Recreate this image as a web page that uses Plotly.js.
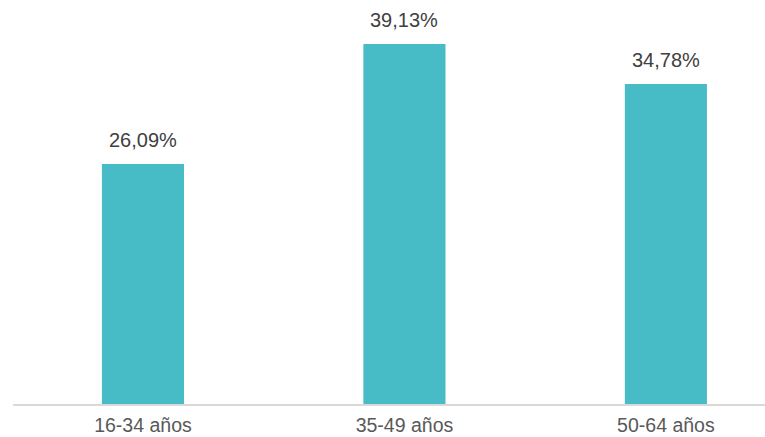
<!DOCTYPE html>
<html><head><meta charset="utf-8">
<script src="https://cdn.plot.ly/plotly-3.0.1.min.js"></script>
<style>html,body{margin:0;padding:0;background:#fff}#chart{width:765px;height:437px}</style>
</head><body><div id="chart"></div>
<script>
const categories = ["16-34 años", "35-49 años", "50-64 años"];
const values = [26.09, 39.13, 34.78];
const valueLabels = ["26,09%", "39,13%", "34,78%"];

const trace = {
  type: 'bar',
  x: [0, 1, 2],
  y: values,
  width: 0.314,
  marker: {color: '#48BCC6'},
  hoverinfo: 'skip'
};

const annotations = values.map((v, i) => ({
  x: i, y: v, xref: 'x', yref: 'y',
  text: valueLabels[i], showarrow: false,
  yanchor: 'bottom', yshift: 11,
  font: {family: 'Liberation Sans, Arial, sans-serif', size: 20, color: '#404040'}
}));

const layout = {
  width: 765, height: 437,
  margin: {l: 13, r: 0, t: 0, b: 33},
  paper_bgcolor: '#fff', plot_bgcolor: '#fff',
  showlegend: false,
  xaxis: {
    range: [-0.497, 2.379],
    tickvals: [0, 1, 2], ticktext: categories,
    showgrid: false, zeroline: false,
    showline: true, linecolor: '#d9d9d9', linewidth: 1.5,
    ticks: '', ticklabelstandoff: 3,
    tickfont: {family: 'Liberation Sans, Arial, sans-serif', size: 19.5, color: '#595959'},
    fixedrange: true
  },
  yaxis: {
    range: [0, 43.9], visible: false, showgrid: false, zeroline: false, fixedrange: true
  },
  annotations: annotations
};

Plotly.newPlot('chart', [trace], layout, {displayModeBar: false, staticPlot: true});
</script></body></html>
